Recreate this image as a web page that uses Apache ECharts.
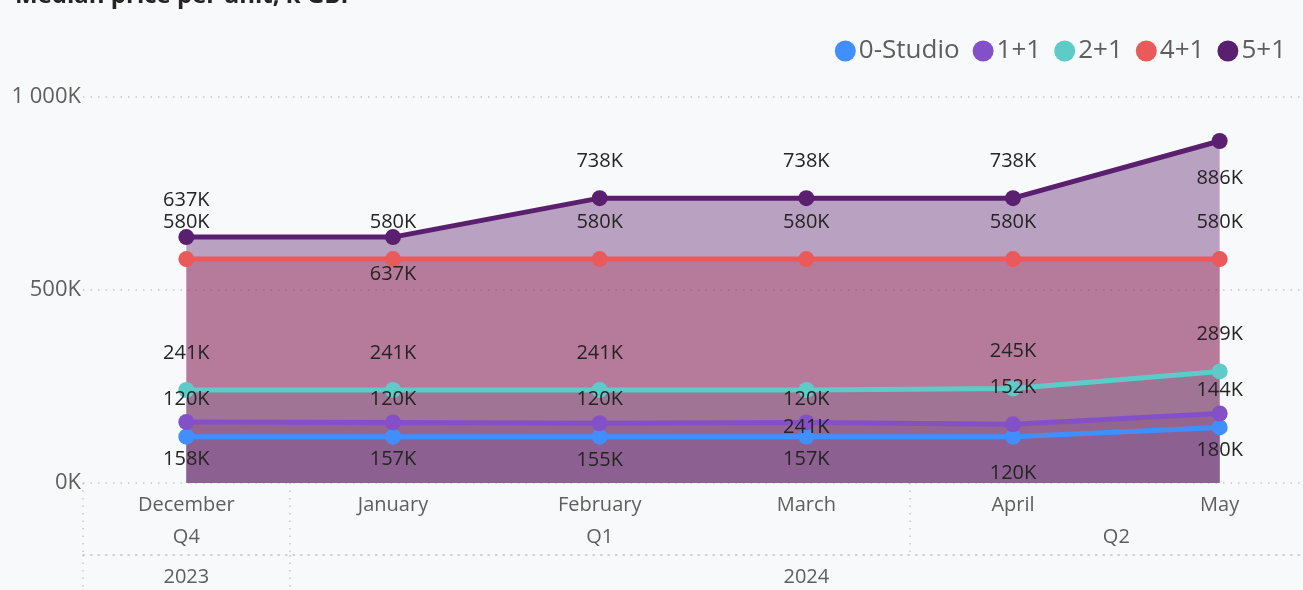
<!DOCTYPE html>
<html>
<head>
<meta charset="utf-8">
<script src="https://cdn.jsdelivr.net/npm/echarts@6/dist/echarts.min.js"></script>
<style>
  html, body { margin: 0; padding: 0; background: #f8f9fb; }
  #chart { width: 1303px; height: 590px; }
</style>
</head>
<body>
<div id="chart"></div>
<script>
// values in K GBP
var months = ["December", "January", "February", "March", "April", "May"];
var seriesNames = ["0-Studio", "1+1", "2+1", "4+1", "5+1"];
var studio = [120, 120, 120, 120, 120, 144];
var oneOne = [158, 157, 155, 157, 152, 180];
var twoOne = [241, 241, 241, 241, 245, 289];
var fourOne = [580, 580, 580, 580, 580, 580];
var fiveOne = [637, 637, 738, 738, 738, 886];

// hierarchy labels (positions on the month scale, 0 = December)
var quarterLabels = ["Q4", "Q1", "Q2"];
var quarterCenters = [0, 2, 4.5];
var quarterBreaks = [-0.5, 0.5, 3.5];
var yearLabels = ["2023", "2024"];
var yearCenters = [0, 3];
var yearBreaks = [-0.5, 0.5];

// where each data label sits (Power BI shuffles them around)
var labelSides = [
  ["top", "top", "top", "top", "bottom", "top"],
  ["bottom", "bottom", "bottom", "bottom", "top", "bottom"],
  ["top", "top", "top", "bottom", "top", "top"],
  ["top", "top", "top", "top", "top", "top"],
  ["top", "bottom", "top", "top", "top", "bottom"]
];

var colors = ["#418fff", "#8450c8", "#5ecbc8", "#ea5a5a", "#5b1f6f"];
var values = [studio, oneOne, twoOne, fourOne, fiveOne];
var font = "'Segoe UI', 'Open Sans', sans-serif";
var dotted = { color: "#c8c6c4", width: 1.5, type: [1.5, 6] };

var chart = echarts.init(document.getElementById("chart"));

var series = [];
// areas first so all lines sit above them
values.forEach(function (v, i) {
  series.push({
    name: seriesNames[i],
    type: "line",
    data: v,
    color: colors[i],
    showSymbol: false,
    silent: true,
    lineStyle: { width: 0, opacity: 0 },
    areaStyle: { color: colors[i], opacity: 0.4 },
    z: 2
  });
});
values.forEach(function (v, i) {
  series.push({
    name: seriesNames[i],
    type: "line",
    color: colors[i],
    data: v.map(function (x, j) {
      return { value: x, label: { position: labelSides[i][j] } };
    }),
    symbol: "circle",
    symbolSize: 16,
    lineStyle: { width: 5, color: colors[i] },
    itemStyle: { color: colors[i] },
    label: {
      show: true,
      distance: 19,
      fontFamily: font,
      fontSize: 20,
      color: "#252423",
      formatter: function (p) { return p.value + "K"; }
    },
    z: 5
  });
});

var option = {
  backgroundColor: "#f8f9fb",
  animation: false,
  title: {
    text: "Median price per unit, k GBP",
    left: 10,
    top: -21,
    textStyle: { fontFamily: font, fontSize: 24, fontWeight: "bold", color: "#252423" }
  },
  legend: {
    right: 12,
    top: 33,
    icon: "circle",
    itemWidth: 21,
    itemHeight: 21,
    itemGap: 13,
    data: seriesNames,
    textStyle: { fontFamily: font, fontSize: 26, color: "#605e5c", padding: [0, 0, 0, -2] }
  },
  // plot runs past the right edge, like the original
  grid: { left: 83, width: 1240, top: 97, height: 386, outerBoundsMode: "none" },
  xAxis: [
    {
      type: "category",
      data: months,
      boundaryGap: true,
      axisLine: { show: false },
      axisTick: { show: false },
      axisLabel: { margin: 12, fontFamily: font, fontSize: 20, color: "#605e5c" }
    },
    {
      type: "value",
      min: -0.5,
      max: 5.5,
      interval: 0.5,
      position: "bottom",
      axisLine: { show: false },
      splitLine: { show: false },
      axisTick: { show: true, customValues: quarterBreaks, length: 72, lineStyle: dotted },
      axisLabel: {
        customValues: quarterCenters,
        margin: 44,
        fontFamily: font, fontSize: 20, color: "#605e5c",
        formatter: function (v) {
          var k = quarterCenters.indexOf(v);
          return k >= 0 ? quarterLabels[k] : "";
        }
      }
    },
    {
      type: "value",
      min: -0.5,
      max: 5.5,
      interval: 0.5,
      position: "bottom",
      offset: 72,
      axisLine: { show: true, lineStyle: dotted },
      splitLine: { show: false },
      axisTick: { show: true, customValues: yearBreaks, length: 40, lineStyle: dotted },
      axisLabel: {
        customValues: yearCenters,
        margin: 12,
        fontFamily: font, fontSize: 20, color: "#605e5c",
        formatter: function (v) {
          var k = yearCenters.indexOf(v);
          return k >= 0 ? yearLabels[k] : "";
        }
      }
    }
  ],
  yAxis: {
    type: "value",
    min: 0,
    max: 1000,
    interval: 500,
    axisLine: { show: false },
    axisTick: { show: false },
    splitLine: { show: true, lineStyle: dotted },
    axisLabel: {
      margin: 2,
      fontFamily: font,
      fontSize: 22,
      color: "#605e5c",
      formatter: function (v) {
        return (v >= 1000 ? Math.floor(v / 1000) + " " + String(v % 1000).padStart(3, "0") : v) + "K";
      }
    }
  },
  series: series
};

chart.setOption(option);
</script>
</body>
</html>
